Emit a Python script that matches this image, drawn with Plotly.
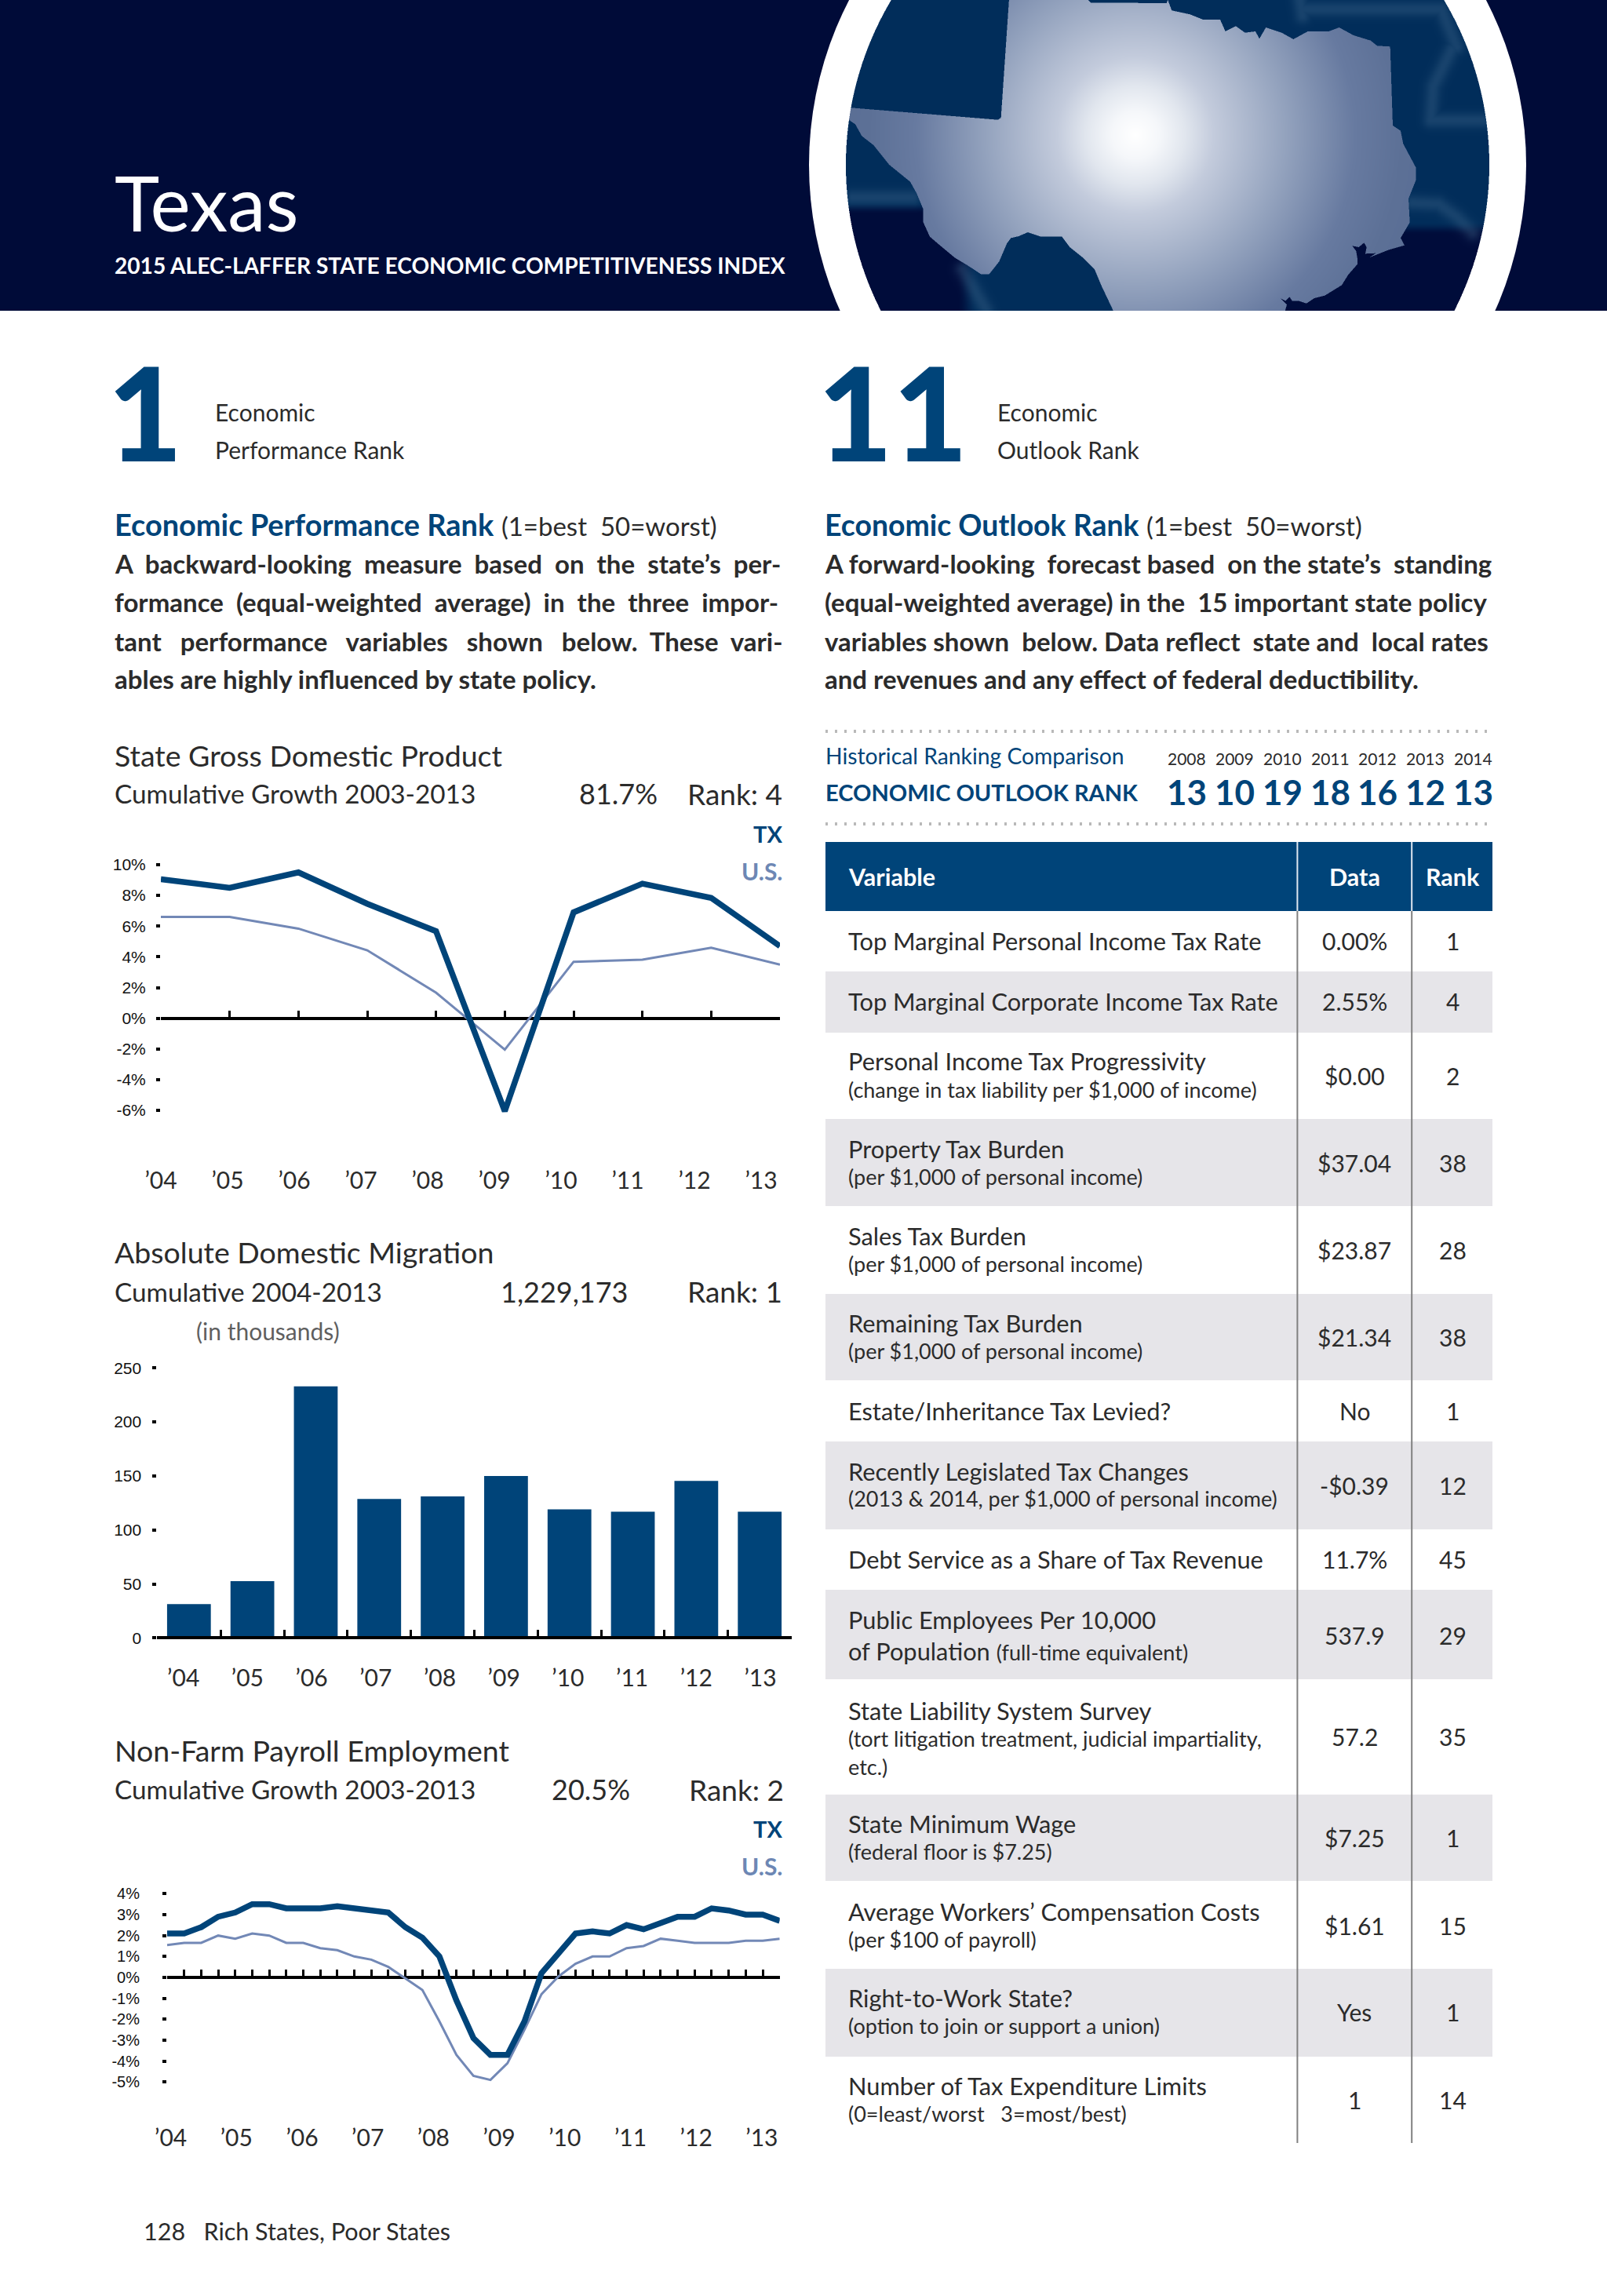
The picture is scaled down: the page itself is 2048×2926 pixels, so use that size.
import base64, struct, zlib
import numpy as np
import plotly.graph_objects as go

W, H = 2048, 2926
BLUE = "#004479"; USC = "#7288b6"; DARK = "#2b2b2b"; NAVY = "#000b38"; GRAY = "#e6e5e9"
TXT = "Lato"; NUM = "Liberation Sans"

# ---------- chart data ----------
years = ["’04", "’05", "’06", "’07", "’08", "’09", "’10", "’11", "’12", "’13"]
gdp_tx = [9.06, 8.5, 9.5, 7.46, 5.67, -6.05, 6.9, 8.77, 7.84, 4.7]
gdp_us = [6.6, 6.6, 5.84, 4.43, 1.67, -2.04, 3.68, 3.82, 4.6, 3.5]
gdp_ticks = [-6, -4, -2, 0, 2, 4, 6, 8, 10]
mig_vals = [31.2, 52.6, 233, 128.6, 131, 150, 119, 116.8, 145.3, 116.8]
mig_ticks = [0, 50, 100, 150, 200, 250]
emp_tx = [2.1, 2.1, 2.4, 2.9, 3.1, 3.5, 3.5, 3.3, 3.3, 3.3, 3.4, 3.3, 3.2, 3.1, 2.4, 1.9, 1.0, -1.1, -2.9, -3.7,
          -3.7, -2.1, 0.2, 1.2, 2.1, 2.2, 2.1, 2.5, 2.3, 2.6, 2.9, 2.9, 3.3, 3.2, 3.0, 3.0, 2.7]
emp_us = [1.55, 1.65, 1.65, 2.0, 1.85, 2.1, 2.0, 1.65, 1.65, 1.4, 1.3, 1.0, 0.85, 0.5, -0.05, -0.6, -2.1, -3.7, -4.7, -4.9,
          -4.1, -2.5, -0.8, 0.05, 0.65, 1.0, 1.0, 1.4, 1.5, 1.85, 1.75, 1.65, 1.65, 1.65, 1.75, 1.75, 1.85]
emp_ticks = [-5, -4, -3, -2, -1, 0, 1, 2, 3, 4]

# ---------- table data ----------
hist_years = ["2008", "2009", "2010", "2011", "2012", "2013", "2014"]
hist_ranks = ["13", "10", "19", "18", "16", "12", "13"]
variables = ["Top Marginal Personal Income Tax Rate", "Top Marginal Corporate Income Tax Rate",
             "Personal Income Tax Progressivity", "Property Tax Burden", "Sales Tax Burden", "Remaining Tax Burden",
             "Estate/Inheritance Tax Levied?", "Recently Legislated Tax Changes", "Debt Service as a Share of Tax Revenue",
             "Public Employees Per 10,000", "State Liability System Survey", "State Minimum Wage",
             "Average Workers’ Compensation Costs", "Right-to-Work State?", "Number of Tax Expenditure Limits"]
notes = ["", "", "(change in tax liability per $1,000 of income)", "(per $1,000 of personal income)",
         "(per $1,000 of personal income)", "(per $1,000 of personal income)", "",
         "(2013 & 2014, per $1,000 of personal income)", "", "",
         "(tort litigation treatment, judicial impartiality,<br>etc.)", "(federal floor is $7.25)", "(per $100 of payroll)",
         "(option to join or support a union)", "(0=least/worst   3=most/best)"]
data_vals = ["0.00%", "2.55%", "$0.00", "$37.04", "$23.87", "$21.34", "No", "-$0.39", "11.7%", "537.9", "57.2", "$7.25",
             "$1.61", "Yes", "1"]
rank_vals = ["1", "4", "2", "38", "28", "38", "1", "12", "45", "29", "35", "1", "15", "1", "14"]
row_edges = [1161, 1238, 1316, 1426, 1537, 1649, 1759, 1837, 1949, 2026, 2140, 2287, 2397, 2509, 2621, 2731]
row_mid = [1200, 1277, 1372, 1483, 1594, 1705, 1799, 1894, 1988, 2085, 2214, 2343, 2455, 2565, 2677]

px = lambda x: x / W
py = lambda y: 1 - y / H
ann, shp = [], []


def text(x, y, s, size, color=DARK, bold=False, anchor="left", font=TXT, weight=None):
    if bold:
        s = "<b>" + s + "</b>"
    f = dict(family=font, size=size, color=color)
    if weight:
        f["weight"] = weight
    ann.append(dict(x=px(x), y=py(y - 2), xref="paper", yref="paper", text=s, showarrow=False, xanchor=anchor,
                    yanchor="middle", align=anchor, font=f, borderpad=0, borderwidth=0))


def rect(x0, y0, x1, y1, color):
    shp.append(dict(type="rect", xref="paper", yref="paper", x0=px(x0), x1=px(x1), y0=py(y0), y1=py(y1),
                    fillcolor=color, line_width=0, layer="below"))


def vline(x, y0, y1, color, w):
    shp.append(dict(type="line", xref="paper", yref="paper", x0=px(x), x1=px(x), y0=py(y0), y1=py(y1),
                    line=dict(color=color, width=w), layer="below"))


# ---------- header ----------
rect(0, 0, W, 396, NAVY)
CX, CY, RO, RI = 1488, 210, 457, 410
shp.append(dict(type="circle", xref="paper", yref="paper", x0=px(CX - RO), x1=px(CX + RO), y0=py(CY + RO), y1=py(CY - RO),
                fillcolor="white", line_width=0, layer="below"))

outline_a = [(648, -5), (617, 450), (605, 458), (20, 410), (20, 458), (35, 458), (60, 475), (85, 520), (130, 555), (190, 630),
             (270, 695), (295, 740), (320, 800), (320, 850), (345, 905), (380, 935), (440, 985), (490, 1015), (540, 1048),
             (572, 1048), (610, 1000), (640, 930), (655, 910), (685, 903), (720, 888), (770, 905), (850, 905), (880, 945),
             (930, 985), (975, 1030), (1000, 1090), (1045, 1185), (1045, 1200)]
outline_b = [(470, 1200), (480, 1165), (455, 1140), (475, 1150), (490, 1135), (500, 1150), (525, 1150), (555, 1160), (585, 1140),
             (625, 1130), (690, 1090), (715, 1050), (750, 1010), (750, 990), (745, 960), (730, 940), (755, 945), (775, 928),
             (785, 945), (780, 970), (820, 968), (795, 985), (870, 955), (930, 938), (915, 910), (950, 850), (945, 760),
             (973, 690), (973, 640), (925, 550), (915, 500), (885, 480), (875, 178), (825, 175), (800, 155), (735, 135),
             (680, 105), (640, 120), (560, 120), (505, 150), (460, 125), (400, 105), (375, 148), (360, 120), (320, 125),
             (285, 100), (245, 120), (225, 75), (160, 75), (110, 55), (40, 40), (25, 0), (20, 12), (-270, 10), (-285, -5)]
glow_paths = [[(50, 755, 0), (280, 755, 0)], [(470, 1030, 0), (560, 1185, 0)],
              [(1110, 190, 1), (1040, 330, 1), (1030, 460, 1), (1230, 460, 1)],
              [(960, 775, 1), (1060, 780, 1), (1130, 830, 1), (1190, 890, 1)],
              [(530, 0, 1), (540, 60, 1)], [(540, 35, 1), (1070, 35, 1), (1130, 180, 1)]]


def globe_png():
    x0, x1, h, ss = 1070, 1900, 396, 2
    xs = (np.arange((x1 - x0) * ss) + .5) / ss + x0
    ys = (np.arange(h * ss) + .5) / ss
    X, Y = np.meshgrid(xs, ys)
    poly = [(1070 + a / 3, b / 3) for a, b in outline_a] + [(1480 + a / 3, b / 3) for a, b in outline_b]
    inside = np.zeros(X.shape, bool)
    for (ax, ay), (bx, by) in zip(poly, poly[1:] + poly[:1]):
        if ay == by:
            continue
        inside ^= ((ay > Y) != (by > Y)) & (X < (bx - ax) * (Y - ay) / (by - ay) + ax)
    R = np.hypot(X - 1447, Y - 172)
    stops = [0, 30, 63, 100, 190, 280, 340, 500]
    tex = np.stack([np.interp(R, stops, c) for c in ([255, 245, 225, 195, 148, 103, 92, 85],
                                                     [255, 247, 230, 203, 163, 122, 112, 105],
                                                     [255, 250, 238, 220, 190, 160, 150, 145])], -1)
    bg0 = np.array([1, 45, 90.])
    bg1 = np.array([0, 12, 58.])
    sm = lambda v: np.clip(v, 0, 1) ** 2 * (3 - 2 * np.clip(v, 0, 1))
    dark = np.maximum(sm((Y - 258) / 14) * sm((1245 - X) / 25), sm((Y - 283) / 16) * sm((X - 1600) / 30))
    bg = bg0[None, None] * (1 - dark[..., None]) + bg1[None, None] * dark[..., None]
    g = np.zeros(X.shape)
    for path in glow_paths:
        pts = [((1480 if c else 1070) + a / 3, b / 3) for a, b, c in path]
        for (ax, ay), (bx, by) in zip(pts, pts[1:]):
            dx, dy = bx - ax, by - ay
            t = np.clip(((X - ax) * dx + (Y - ay) * dy) / (dx * dx + dy * dy), 0, 1)
            g = np.maximum(g, np.exp(-(((X - ax - t * dx) ** 2 + (Y - ay - t * dy) ** 2) / (2 * 7.0 ** 2))))
    bg = bg + (np.array([70, 110, 145.])[None, None] - bg) * (0.33 * g[..., None])
    rgb = np.where(inside[..., None], tex, bg)
    alpha = (np.hypot(X - CX, Y - CY) <= RI) * 255.
    rgba = np.dstack([rgb, alpha])
    rgba = rgba.reshape(h, ss, x1 - x0, ss, 4).mean(axis=(1, 3)).round().astype(np.uint8)
    raw = b"".join(b"\0" + r.tobytes() for r in rgba)

    def chunk(t, d):
        return struct.pack(">I", len(d)) + t + d + struct.pack(">I", zlib.crc32(t + d))
    png = b"\x89PNG\r\n\x1a\n" + chunk(b"IHDR", struct.pack(">IIBBBBB", x1 - x0, h, 8, 6, 0, 0, 0)) + \
        chunk(b"IDAT", zlib.compress(raw, 9)) + chunk(b"IEND", b"")
    return "data:image/png;base64," + base64.b64encode(png).decode(), x0, x1, h


src, ix0, ix1, ih = globe_png()
images = [dict(source=src, xref="paper", yref="paper", x=px(ix0), y=1, sizex=(ix1 - ix0) / W, sizey=ih / H, xanchor="left",
               yanchor="top", sizing="stretch", layer="above")]

text(146, 259, "Texas", 97, "white")
text(146, 340, "2015 ALEC-LAFFER STATE ECONOMIC COMPETITIVENESS INDEX", 28.1, "white", True)

# ---------- rank headers ----------
text(137, 526, "1", 165, BLUE, font=TXT, weight=900)
text(1042, 526, "11", 165, BLUE, font=TXT, weight=900)
text(274, 527, "Economic", 30)
text(274, 575, "Performance Rank", 30)
text(1271, 527, "Economic", 30)
text(1271, 575, "Outlook Rank", 30)

sub = " <span style='color:%s;font-size:33px'>(1=best  50=worst)</span>" % DARK
text(146, 671, "<b>Economic Performance Rank</b>" + sub, 37.9, BLUE)
text(1051, 671, "<b>Economic Outlook Rank</b>" + sub, 37.4, BLUE)
N = "\u00a0"
left_body = [f"A {N}backward-looking {N}measure {N}based {N}on {N}the {N}state’s {N}per-",
             f"formance {N}(equal-weighted {N}average) {N}in {N}the {N}three {N}impor-",
             f"tant {N}{N}performance {N}{N}variables {N}{N}shown {N}{N}below. {N}These {N}vari-",
             "ables are highly influenced by state policy."]
right_body = [f"A forward-looking {N}forecast based {N}on the state’s {N}standing",
              f"(equal-weighted average) in the {N}15 important state policy",
              f"variables shown {N}below. Data reflect {N}state and {N}local rates",
              "and revenues and any effect of federal deductibility."]
for yy, a, b in zip([720, 769, 819, 867], left_body, right_body):
    text(146, yy, a, 33, DARK, True)
    text(1051, yy, b, 33, DARK, True)

# ---------- chart captions ----------
caps = [(964, 1013, "State Gross Domestic Product", "Cumulative Growth 2003-2013", "81.7%", 838, "Rank: 4", 997),
        (1598, 1648, "Absolute Domestic Migration", "Cumulative 2004-2013", "1,229,173", 801, "Rank: 1", 997),
        (2232, 2282, "Non-Farm Payroll Employment", "Cumulative Growth 2003-2013", "20.5%", 803, "Rank: 2", 999)]
for y1, y2, t, s, v, vx, r, rx in caps:
    text(146, y1, t, 37.5)
    text(146, y2, s, 33.3)
    text(vx, y2, v, 36, anchor="right")
    text(rx, y2, r, 37, anchor="right")
text(341, 1698, "(in thousands)", 30, "#5f5f5f", anchor="center")
for ty, uy in [(1064, 1112), (2332, 2380)]:
    text(997, ty, "TX", 29, BLUE, True, "right")
    text(997, uy, "U.S.", 30, "#6d87b4", True, "right")
text(183, 2845, "128   Rich States, Poor States", 30.5)

# ---------- table ----------
for yy in (932, 1050):
    shp.append(dict(type="line", xref="paper", yref="paper", x0=px(1052), x1=px(1902), y0=py(yy), y1=py(yy), layer="below",
                    line=dict(color="#b9b9b9", width=4, dash="3px,9px")))
text(1052, 965, "Historical Ranking Comparison", 28.3, BLUE)
text(1052, 1012, "ECONOMIC OUTLOOK RANK", 29, BLUE, True)
hist_x = [1512, 1573, 1634, 1695, 1755.6, 1816, 1877]
for hx, yr, rk in zip(hist_x, hist_years, hist_ranks):
    text(hx, 968, yr, 21, anchor="center")
    text(hx, 1011, rk, 44, BLUE, True, "center")

rect(1052, 1073, 1902, 1161, BLUE)
text(1081, 1119, "Variable", 30.5, "white", True)
text(1726, 1119, "Data", 30.5, "white", True, "center")
text(1851, 1119, "Rank", 30.5, "white", True, "center")
for i, (v, n, d, r) in enumerate(zip(variables, notes, data_vals, rank_vals)):
    if i % 2:
        rect(1052, row_edges[i], 1902, row_edges[i + 1], GRAY)
    if i == 9:
        text(1081, 2066, v, 30.8)
        text(1081, 2106, "of Population <span style='font-size:27px'>(full-time equivalent)</span>", 30.8)
    elif i == 10:
        text(1081, 2182, v, 30.8)
        text(1081, 2217, "(tort litigation treatment, judicial impartiality,", 27)
        text(1081, 2253, "etc.)", 27)
    elif n:
        text(1081, row_mid[i] - 17, v, 30.8)
        text(1081, row_mid[i] + 18, n, 27)
    else:
        text(1081, row_mid[i] + 1, v, 30.8)
    text(1726, row_mid[i] + 1, d, 30, anchor="center")
    text(1851, row_mid[i] + 1, r, 30, anchor="center")
for vx in (1653.4, 1799.2):
    vline(vx, 1073, 1161, "#dfe7f0", 2)
    vline(vx, 1161, 2731, "#808080", 2)

# ---------- charts ----------
fig = go.Figure()


def ydom(zero, perunit, lo, hi):
    return [py(zero - lo * perunit), py(zero - hi * perunit)]


def label_axis(d0, d1, l0, step, centre, over):
    return dict(overlaying=over, anchor="free", position=py(centre - 21), range=[(d0 - l0) / step, (d1 - l0) / step],
                tickmode="array", tickvals=list(range(10)), ticktext=years, showline=False, showgrid=False, zeroline=False,
                ticks="", tickfont=dict(family=TXT, size=30, color=DARK))


def yaxis(dom, rng, vals, texts, standoff, anchor):
    return dict(domain=dom, range=rng, anchor=anchor, tickmode="array", tickvals=vals, ticktext=texts, showgrid=False,
                zeroline=False, showline=False, ticks="outside", ticklen=5, tickwidth=3.5, tickcolor="black",
                ticklabelstandoff=standoff, tickfont=dict(family=NUM, size=21, color="#111111"))


def xaxis(d0, d1, rng, vals, zero, layer, w):
    return dict(domain=[px(d0), px(d1)], range=rng, anchor="free", position=py(zero), tickmode="array", tickvals=vals,
                showticklabels=False, showgrid=False, zeroline=False, showline=True, linecolor="black", linewidth=w,
                ticks="inside", ticklen=8, tickwidth=2.5, tickcolor="black", layer=layer)


layout = {}
# chart 1
xv = list(range(10))
fig.add_trace(go.Scatter(x=xv, y=gdp_us, mode="lines", line=dict(color=USC, width=3), xaxis="x", yaxis="y", cliponaxis=False))
fig.add_trace(go.Scatter(x=xv, y=gdp_tx, mode="lines", line=dict(color=BLUE, width=7.5), xaxis="x", yaxis="y", cliponaxis=False))
fig.add_trace(go.Scatter(x=[], y=[], xaxis="x2", yaxis="y"))
layout["xaxis"] = xaxis(205, 994, [0, 9], xv, 1297.7, "below traces", 4)
layout["xaxis2"] = label_axis(205, 994, 205, 85, 1505, "x")
layout["yaxis"] = yaxis(ydom(1297.7, 19.57, -8, 11), [-8, 11], gdp_ticks, [f"{t}%" for t in gdp_ticks], 9, "x")

# chart 2
fig.add_trace(go.Bar(x=xv, y=mig_vals, marker=dict(color=BLUE, line_width=0), width=0.69, xaxis="x3", yaxis="y2"))
fig.add_trace(go.Scatter(x=[], y=[], xaxis="x4", yaxis="y2"))
layout["xaxis3"] = xaxis(200.4, 1008.6, [-0.5, 9.5], [i - .5 for i in range(11)], 2087.3, "above traces", 4)
layout["xaxis4"] = label_axis(200.4, 1008.6, 233.7, 81.7, 2139, "x3")
layout["yaxis2"] = yaxis(ydom(2087.3, 1.376, -30, 270), [-30, 270], mig_ticks, [str(t) for t in mig_ticks], 10, "x3")

# chart 3
qv = list(range(37))
fig.add_trace(go.Scatter(x=qv, y=emp_us, mode="lines", line=dict(color=USC, width=3), xaxis="x5", yaxis="y3", cliponaxis=False))
fig.add_trace(go.Scatter(x=qv, y=emp_tx, mode="lines", line=dict(color=BLUE, width=7.5), xaxis="x5", yaxis="y3", cliponaxis=False))
fig.add_trace(go.Scatter(x=[], y=[], xaxis="x6", yaxis="y3"))
layout["xaxis5"] = xaxis(213, 993.7, [0, 36], qv, 2520, "below traces", 4)
layout["xaxis6"] = label_axis(213, 993.7, 217.6, 83.7, 2725, "x5")
layout["yaxis3"] = yaxis(ydom(2520, 26.67, -7, 5), [-7, 5], emp_ticks, [f"{t}%" for t in emp_ticks], 25, "x5")
layout["yaxis3"]["tickfont"]["size"] = 20

fig.update_layout(width=W, height=H, margin=dict(l=0, r=0, t=0, b=0, autoexpand=False), paper_bgcolor="white",
                  plot_bgcolor="rgba(0,0,0,0)", showlegend=False, annotations=ann, shapes=shp, images=images, **layout)
fig.write_html("out.html", post_script="document.body.style.margin='0';", config={"displayModeBar": False})
